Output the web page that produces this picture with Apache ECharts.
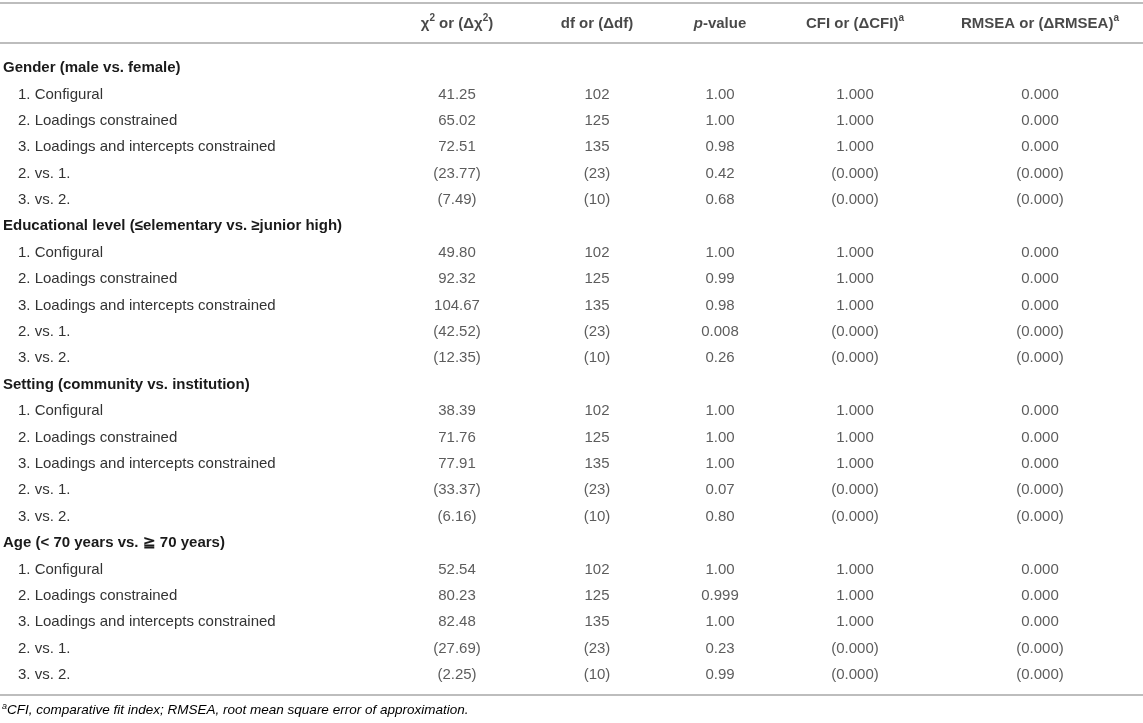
<!DOCTYPE html>
<html>
<head>
<meta charset="utf-8">
<script src="https://cdn.jsdelivr.net/npm/echarts@6/dist/echarts.min.js"></script>
<style>
html,body{margin:0;padding:0;background:#fff;}
#main{width:1143px;height:723px;}
</style>
</head>
<body>
<div id="main"></div>
<script>
// ---- data ----
const sections = [
  'Gender (male vs. female)',
  'Educational level (≤elementary vs. ≥junior high)',
  'Setting (community vs. institution)',
  'Age (< 70 years vs. ≧ 70 years)'
];
const steps = ['1. Configural', '2. Loadings constrained', '3. Loadings and intercepts constrained', '2. vs. 1.', '3. vs. 2.'];
const headers = ['χ{sup|2} or (Δχ{sup|2})', 'df or (Δdf)', '{it|p}-value', 'CFI or (ΔCFI){sup|a}', 'RMSEA or (ΔRMSEA){sup|a}'];

const chi2Gender  = ['41.25', '65.02', '72.51', '(23.77)', '(7.49)'];
const chi2Edu     = ['49.80', '92.32', '104.67', '(42.52)', '(12.35)'];
const chi2Setting = ['38.39', '71.76', '77.91', '(33.37)', '(6.16)'];
const chi2Age     = ['52.54', '80.23', '82.48', '(27.69)', '(2.25)'];

const dfGender  = ['102', '125', '135', '(23)', '(10)'];
const dfEdu     = ['102', '125', '135', '(23)', '(10)'];
const dfSetting = ['102', '125', '135', '(23)', '(10)'];
const dfAge     = ['102', '125', '135', '(23)', '(10)'];

const pGender  = ['1.00', '1.00', '0.98', '0.42', '0.68'];
const pEdu     = ['1.00', '0.99', '0.98', '0.008', '0.26'];
const pSetting = ['1.00', '1.00', '1.00', '0.07', '0.80'];
const pAge     = ['1.00', '0.999', '1.00', '0.23', '0.99'];

const cfiGender  = ['1.000', '1.000', '1.000', '(0.000)', '(0.000)'];
const cfiEdu     = ['1.000', '1.000', '1.000', '(0.000)', '(0.000)'];
const cfiSetting = ['1.000', '1.000', '1.000', '(0.000)', '(0.000)'];
const cfiAge     = ['1.000', '1.000', '1.000', '(0.000)', '(0.000)'];

const rmseaGender  = ['0.000', '0.000', '0.000', '(0.000)', '(0.000)'];
const rmseaEdu     = ['0.000', '0.000', '0.000', '(0.000)', '(0.000)'];
const rmseaSetting = ['0.000', '0.000', '0.000', '(0.000)', '(0.000)'];
const rmseaAge     = ['0.000', '0.000', '0.000', '(0.000)', '(0.000)'];

const footnote = 'CFI, comparative fit index; RMSEA, root mean square error of approximation.';

// ---- layout (not data) ----
const W = 1143;
const colX = [457, 597, 720, 855, 1040];
const FONT = '"Liberation Sans", Arial, Helvetica, sans-serif';
const FS = 15;

const sectionCols = [
  [chi2Gender, dfGender, pGender, cfiGender, rmseaGender],
  [chi2Edu, dfEdu, pEdu, cfiEdu, rmseaEdu],
  [chi2Setting, dfSetting, pSetting, cfiSetting, rmseaSetting],
  [chi2Age, dfAge, pAge, cfiAge, rmseaAge]
];

// build rows
const rowKeys = [];
const rowLabels = {};
const isSection = {};
sections.forEach((s, si) => {
  const k = 's' + si;
  rowKeys.push(k); rowLabels[k] = s; isSection[k] = true;
  steps.forEach((st, ti) => {
    const kk = 's' + si + 'r' + ti;
    rowKeys.push(kk); rowLabels[kk] = st; isSection[kk] = false;
  });
});

const cellData = [];
sectionCols.forEach((cols, si) => {
  cols.forEach((arr, ci) => {
    arr.forEach((v, ti) => {
      cellData.push([colX[ci], 's' + si + 'r' + ti, v]);
    });
  });
});
const headerData = headers.map((h, i) => [colX[i], 'header', h]);

const chart = echarts.init(document.getElementById('main'), null, {renderer: 'canvas'});
const hidden = {show: false};
chart.setOption({
  backgroundColor: '#ffffff',
  animation: false,
  textStyle: {fontFamily: FONT},
  grid: [
    {left: 0, right: 0, top: 4, height: 39},
    {left: 0, right: 0, top: 54.8, bottom: 34.8}
  ],
  xAxis: [
    {gridIndex: 0, type: 'value', min: 0, max: W, axisLine: hidden, axisTick: hidden, axisLabel: hidden, splitLine: hidden},
    {gridIndex: 1, type: 'value', min: 0, max: W, axisLine: hidden, axisTick: hidden, axisLabel: hidden, splitLine: hidden}
  ],
  yAxis: [
    {gridIndex: 0, type: 'category', data: ['header'], axisLine: hidden, axisTick: hidden, axisLabel: hidden, splitLine: hidden},
    {
      gridIndex: 1, type: 'category', data: rowKeys, inverse: true,
      axisLine: hidden, axisTick: hidden, splitLine: hidden,
      axisLabel: {
        show: true, inside: true, margin: 3, interval: 0,
        formatter: k => isSection[k] ? '{sec|' + rowLabels[k] + '}' : '{item|' + rowLabels[k] + '}',
        rich: {
          sec: {fontFamily: FONT, fontSize: FS, fontWeight: 'bold', color: '#1a1a1a'},
          item: {fontFamily: FONT, fontSize: FS, color: '#333333', padding: [0, 0, 0, 15]}
        }
      }
    }
  ],
  series: [
    {
      type: 'scatter', xAxisIndex: 0, yAxisIndex: 0, data: headerData,
      symbolSize: 1, itemStyle: {color: 'rgba(0,0,0,0)'}, silent: true,
      label: {
        show: true, position: 'inside',
        formatter: p => '{b|' + p.value[2].replace(/\{sup\|([^}]*)\}/g, '}{sup|$1}{b|').replace(/\{it\|([^}]*)\}/g, '}{it|$1}{b|') + '}',
        rich: {
          b: {fontFamily: FONT, fontSize: FS, fontWeight: 'bold', color: '#1a1a1a', lineHeight: 20},
          it: {fontFamily: FONT, fontSize: FS, fontWeight: 'bold', fontStyle: 'italic', color: '#1a1a1a', lineHeight: 20},
          sup: {fontFamily: FONT, fontSize: 10, fontWeight: 'bold', color: '#1a1a1a', verticalAlign: 'top', lineHeight: 11}
        }
      }
    },
    {
      type: 'scatter', xAxisIndex: 1, yAxisIndex: 1, data: cellData,
      symbolSize: 1, itemStyle: {color: 'rgba(0,0,0,0)'}, silent: true,
      label: {
        show: true, position: 'inside',
        formatter: p => p.value[2],
        fontFamily: FONT, fontSize: FS, color: '#333333'
      }
    }
  ],
  graphic: [
    {type: 'line', shape: {x1: 0, y1: 3, x2: W, y2: 3}, style: {stroke: '#bdbdbd', lineWidth: 2}, silent: true},
    {type: 'line', shape: {x1: 0, y1: 43, x2: W, y2: 43}, style: {stroke: '#bdbdbd', lineWidth: 2}, silent: true},
    {type: 'line', shape: {x1: 0, y1: 695, x2: W, y2: 695}, style: {stroke: '#bdbdbd', lineWidth: 2}, silent: true},
    {
      type: 'text', left: 2, top: 702, silent: true,
      style: {
        text: '{sup|a}{it|' + footnote + '}',
        rich: {
          sup: {fontFamily: FONT, fontSize: 9, fontStyle: 'italic', color: '#333', verticalAlign: 'top', lineHeight: 9},
          it: {fontFamily: FONT, fontSize: 13.5, fontStyle: 'italic', color: '#333', lineHeight: 17}
        }
      }
    }
  ]
});
</script>
</body>
</html>
